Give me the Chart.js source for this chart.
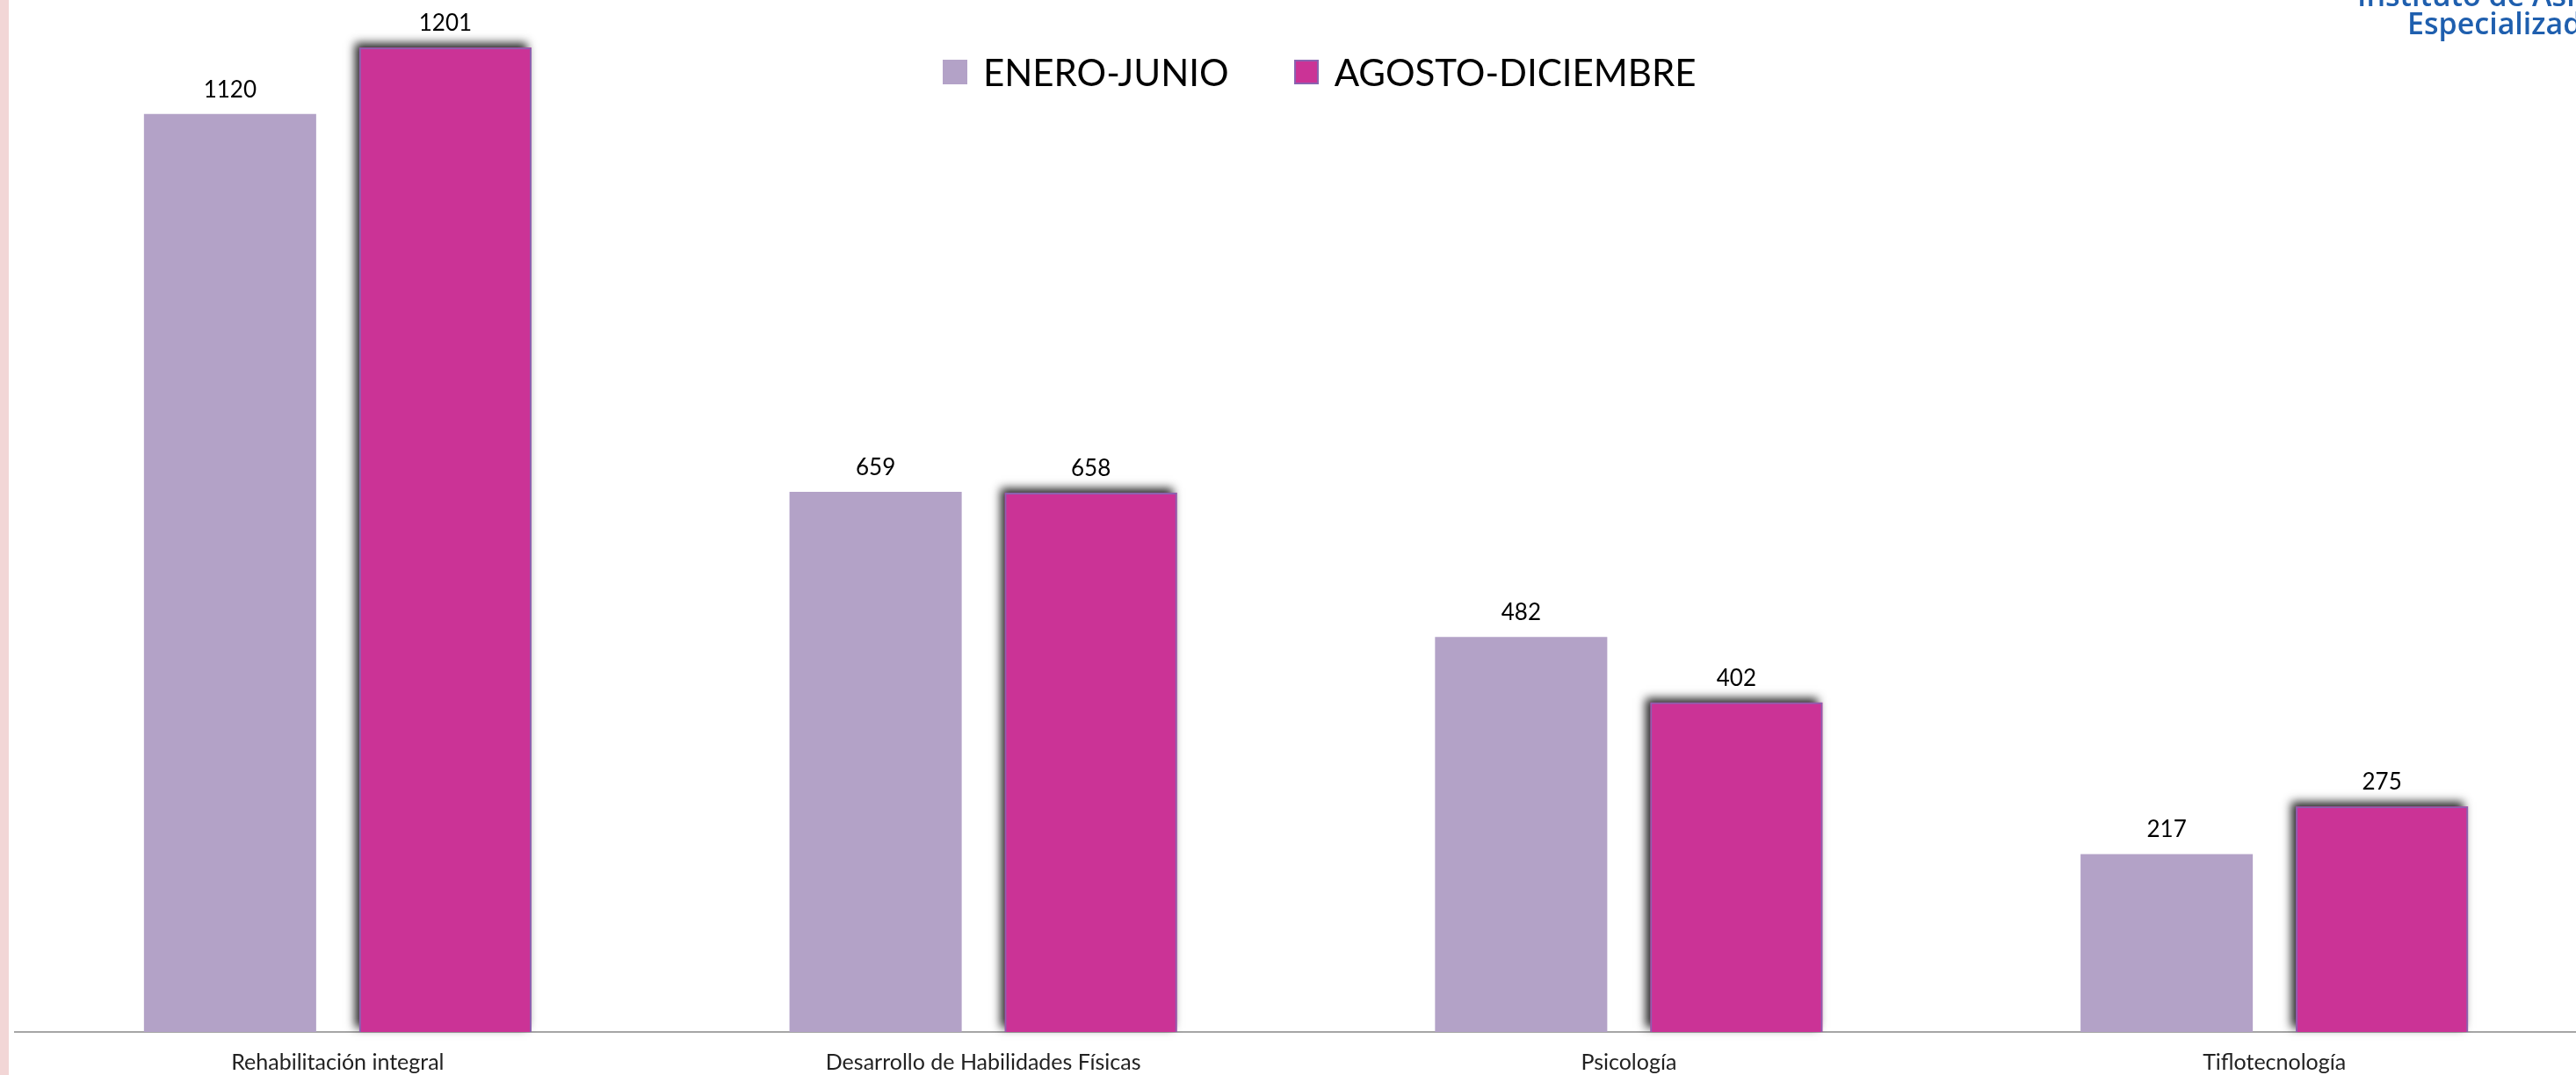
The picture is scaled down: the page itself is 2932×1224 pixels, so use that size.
<!DOCTYPE html>
<html>
<head>
<meta charset="utf-8">
<script src="https://cdn.jsdelivr.net/npm/chart.js@4"></script>
<style>
  html, body { margin: 0; padding: 0; background: #fff; overflow: hidden; width: 2932px; height: 1224px; }
  #wrap { position: relative; width: 2932px; height: 1224px; overflow: hidden; }
  #strip { position: absolute; left: 0; top: 0; width: 10px; height: 1224px; background: #f2d6d6; }
  #chartBox { position: absolute; left: 0; top: 0; width: 2956px; height: 1245px; }
  #legend { position: absolute; top: 61px; left: 1073px; display: flex; align-items: center; font-family: Lato, sans-serif; font-size: 42px; line-height: 42px; color: #000; }
  #legend .item { display: flex; align-items: center; }
  #legend .box { width: 28px; height: 28px; margin-right: 18px; box-sizing: border-box; }
  #logo { position: absolute; left: 2683px; top: -22px; font-family: "Open Sans", sans-serif; font-weight: 600; color: #1f5fae; font-size: 34px; line-height: 32px; white-space: nowrap; }
</style>
</head>
<body>
<div id="wrap">
  <div id="strip"></div>
  <div id="chartBox"><canvas id="myChart" width="2956" height="1245"></canvas></div>
  <div id="legend"></div>
  <div id="logo"><div>Instituto de Asistencia</div><div style="padding-left:57px">Especializada</div></div>
</div>
<script>
// datos
const categories = ['Rehabilitación integral', 'Desarrollo de Habilidades Físicas', 'Psicología', 'Tiflotecnología'];
const seriesNames = ['ENERO-JUNIO', 'AGOSTO-DICIEMBRE'];
const eneroJunio = [1120, 659, 482, 217];
const agostoDiciembre = [1201, 658, 402, 275];

const colors = ['#b3a2c7', '#cb3396'];
const borders = ['#b3a2c7', '#8a62b0'];

// leyenda
const legend = document.getElementById('legend');
seriesNames.forEach((name, i) => {
    const item = document.createElement('div');
    item.className = 'item';
    if (i > 0) item.style.marginLeft = '74px';
    const box = document.createElement('span');
    box.className = 'box';
    box.style.background = colors[i];
    if (i === 1) box.style.border = '2px solid ' + borders[i];
    const span = document.createElement('span');
    span.textContent = name;
    item.appendChild(box);
    item.appendChild(span);
    legend.appendChild(item);
});

// sombra para la segunda serie (la barra recorta su propia sombra, asi que se pinta antes)
const shadowPlugin = {
    id: 'shadowPlugin',
    beforeDatasetDraw(chart, args) {
        if (args.index !== 1) return;
        const ctx = chart.ctx;
        ctx.save();
        ctx.shadowColor = 'rgba(0,0,0,0.85)';
        ctx.shadowBlur = 10;
        ctx.shadowOffsetX = -5;
        ctx.shadowOffsetY = -5;
        ctx.fillStyle = colors[1];
        args.meta.data.forEach(bar => {
            const p = bar.getProps(['x', 'y', 'base', 'width'], true);
            ctx.fillRect(p.x - p.width / 2, p.y, p.width, p.base - p.y);
        });
        ctx.restore();
    }
};

// etiquetas de valor
const valueLabels = {
    id: 'valueLabels',
    afterDatasetsDraw(chart) {
        const ctx = chart.ctx;
        ctx.save();
        ctx.font = '26px Lato, sans-serif';
        ctx.fillStyle = '#000';
        ctx.textAlign = 'center';
        ctx.textBaseline = 'alphabetic';
        chart.data.datasets.forEach((ds, i) => {
            chart.getDatasetMeta(i).data.forEach((bar, j) => {
                ctx.fillText(ds.data[j], bar.x, bar.y - 19);
            });
        });
        ctx.restore();
    }
};

const ctx = document.getElementById('myChart').getContext('2d');
new Chart(ctx, {
    type: 'bar',
    data: {
        labels: categories,
        datasets: [{
            label: seriesNames[0],
            data: eneroJunio,
            backgroundColor: colors[0],
            borderColor: borders[0],
            borderWidth: 0
        }, {
            label: seriesNames[1],
            data: agostoDiciembre,
            backgroundColor: colors[1],
            borderColor: borders[1],
            borderWidth: 2
        }]
    },
    options: {
        responsive: false,
        animation: false,
        devicePixelRatio: 1,
        layout: { padding: { left: 17, right: 0, top: 0, bottom: 0 } },
        categoryPercentage: 0.667,
        barPercentage: 0.8,
        plugins: {
            legend: false,
            tooltip: { enabled: false }
        },
        scales: {
            x: {
                grid: { display: false, drawTicks: false },
                border: { display: true, color: '#a6a6a6', width: 2 },
                ticks: {
                    padding: 20,
                    color: '#222',
                    font: { family: 'Lato, sans-serif', size: 25 }
                }
            },
            y: {
                display: false,
                min: 0,
                max: 1259
            }
        }
    },
    plugins: [shadowPlugin, valueLabels]
});
</script>
</body>
</html>
